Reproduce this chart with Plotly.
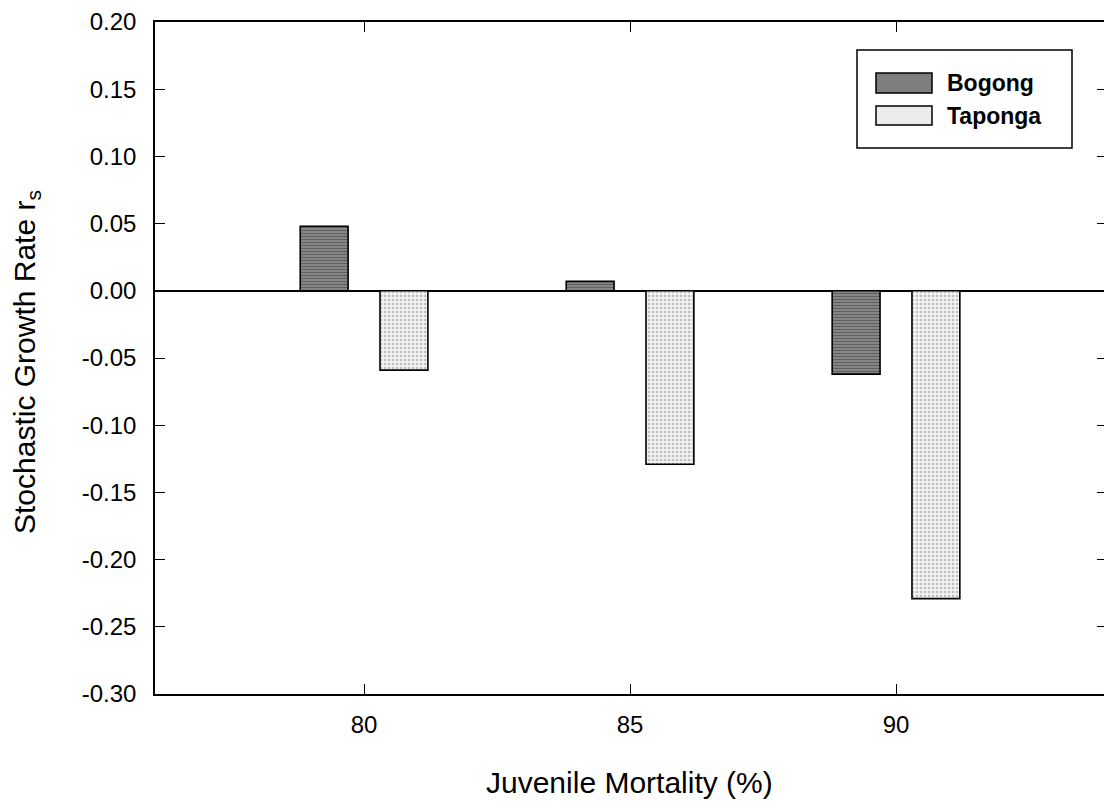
import plotly.graph_objects as go

# Juvenile mortality levels (%) and stochastic growth rates per population
mortality = [80, 85, 90]
bogong = [0.048, 0.007, -0.062]
taponga = [-0.059, -0.129, -0.229]

series_names = ["Bogong", "Taponga"]
y_ticks = [0.20, 0.15, 0.10, 0.05, 0.00, -0.05, -0.10, -0.15, -0.20, -0.25, -0.30]
x_ticks = [80, 85, 90]

font_family = "Liberation Sans, Arial, sans-serif"

BOGONG_FILL = "#7e7e7e"
TAPONGA_FILL = "#ececec"

# plot-area geometry in pixels (used to place the legend and titles)
W, H = 1104, 807
L, R, T, B = 155, 0, 22, 113
PW, PH = W - L - R, H - T - B


def px_x(px):
    return (px - L) / PW


def px_y(py):
    return (H - B - py) / PH


fig = go.Figure()

fig.add_trace(go.Bar(
    x=mortality, y=bogong, name=series_names[0], showlegend=False,
    marker=dict(
        color=BOGONG_FILL,
        line=dict(color="black", width=1.6),
        pattern=dict(shape="-", fgcolor="#333333", bgcolor="#8c8c8c", size=3, solidity=0.45),
    ),
))
fig.add_trace(go.Bar(
    x=mortality, y=taponga, name=series_names[1], showlegend=False,
    marker=dict(
        color=TAPONGA_FILL,
        line=dict(color="black", width=1.6),
        pattern=dict(shape=".", fgcolor="#8a8a8a", bgcolor="#f2f2f2", size=4, solidity=0.35),
    ),
))
# empty trace so the right-hand tick axis is rendered
fig.add_trace(go.Scatter(x=[], y=[], yaxis="y2", showlegend=False, hoverinfo="skip"))

shapes = []
annotations = []

# legend box
shapes.append(dict(type="rect", xref="paper", yref="paper",
                   x0=px_x(857), x1=px_x(1072), y0=px_y(148), y1=px_y(50),
                   line=dict(color="black", width=1.5), fillcolor="white", layer="above"))
legend_rows = [(series_names[0], BOGONG_FILL, 73, 93), (series_names[1], TAPONGA_FILL, 106, 125)]
for name, fill, top, bot in legend_rows:
    shapes.append(dict(type="rect", xref="paper", yref="paper",
                       x0=px_x(876), x1=px_x(932), y0=px_y(bot), y1=px_y(top),
                       line=dict(color="black", width=1.5), fillcolor=fill, layer="above"))
    annotations.append(dict(xref="paper", yref="paper", x=px_x(945), y=px_y((top + bot) / 2),
                            xanchor="left", yanchor="middle", showarrow=False,
                            text=f"<b>{name}</b>", font=dict(size=23, family=font_family)))

# axis titles
annotations.append(dict(xref="paper", yref="paper", x=0.5, y=px_y(782),
                        xanchor="center", yanchor="middle", showarrow=False,
                        text="Juvenile Mortality (%)", font=dict(size=30, family=font_family)))
annotations.append(dict(xref="paper", yref="paper", x=px_x(26), y=px_y(362),
                        xanchor="center", yanchor="middle", showarrow=False, textangle=-90,
                        text="Stochastic Growth Rate r<sub>s</sub>",
                        font=dict(size=30, family=font_family)))

fig.update_layout(
    width=W, height=H,
    margin=dict(l=L, r=R, t=T, b=B),
    paper_bgcolor="white", plot_bgcolor="white",
    barmode="group", bargap=0.4, bargroupgap=0.4,
    font=dict(family=font_family, color="black"),
    showlegend=False,
    shapes=shapes,
    annotations=annotations,
    xaxis=dict(
        range=[76.07, 93.91],
        tickmode="array", tickvals=x_ticks, ticktext=[str(v) for v in x_ticks],
        ticks="inside", ticklen=10, tickwidth=1.2, tickcolor="black",
        showline=True, linecolor="black", linewidth=1.6, mirror="ticks",
        showgrid=False, zeroline=False,
        tickfont=dict(size=24), ticklabelstandoff=8,
    ),
    yaxis=dict(
        range=[-0.30, 0.20],
        tickmode="array", tickvals=y_ticks, ticktext=[f"{v:.2f}" for v in y_ticks],
        ticks="inside", ticklen=10, tickwidth=1.2, tickcolor="black",
        showline=True, linecolor="black", linewidth=1.6,
        showgrid=False,
        zeroline=True, zerolinecolor="black", zerolinewidth=1.6,
        tickfont=dict(size=24), ticklabelstandoff=12,
    ),
    yaxis2=dict(
        range=[-0.30, 0.20], overlaying="y", side="right",
        tickmode="array", tickvals=y_ticks,
        ticks="inside", ticklen=7, tickwidth=1.2, tickcolor="black",
        showticklabels=False, showline=False, showgrid=False, zeroline=False,
    ),
)

fig.write_html("out.html")
